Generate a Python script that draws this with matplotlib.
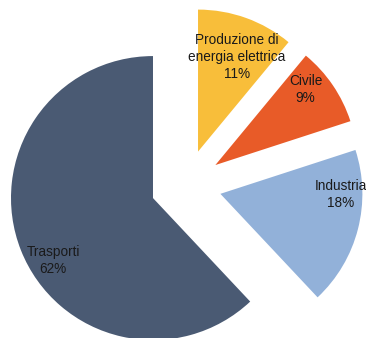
import numpy as np
import matplotlib.pyplot as plt

plt.rcParams['font.family'] = ['Liberation Sans', 'DejaVu Sans']

labels = ['Produzione di\nenergia elettrica', 'Civile', 'Industria', 'Trasporti']
shares = [11, 9, 18, 62]
colors = ['#F8BE3A', '#E85B28', '#92B1D9', '#4A5A73']
explode = [0.25, 0.25, 0.25, 0.25]

# label placement: (distance from wedge vertex, angle in degrees)
label_pos = [(0.72, 67.7), (0.83, 40), (0.85, -0.5), (0.83, -148)]

fig = plt.figure(figsize=(3.66, 3.38), dpi=100)
ax = fig.add_axes([0, 0, 1, 1])

wedges, _ = ax.pie(shares, colors=colors, explode=explode, startangle=90,
                   counterclock=False, radius=1.0)

for w, lab, val, (d, a) in zip(wedges, labels, shares, label_pos):
    cx, cy = w.center
    x = cx + d * np.cos(np.radians(a))
    y = cy + d * np.sin(np.radians(a))
    ax.text(x, y, f'{lab}\n{val}%', ha='center', va='center', fontsize=9.8,
            color='#1a1a1a', linespacing=1.27)

r_px = 142
ax.set_xlim(-186 / r_px, (366 - 186) / r_px)
ax.set_ylim(-153 / r_px, (338 - 153) / r_px)
ax.set_aspect('equal')
ax.axis('off')

fig.savefig('out.png', dpi=100)
